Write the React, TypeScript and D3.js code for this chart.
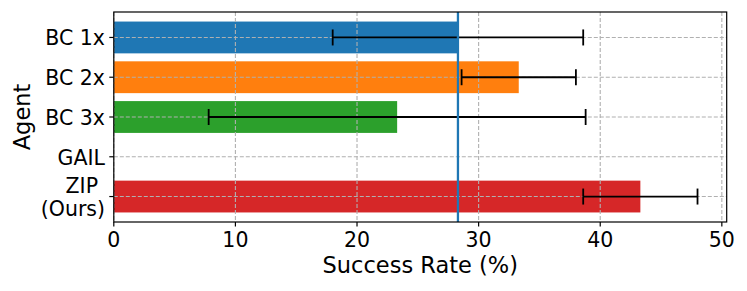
import React from "react";
import * as d3 from "d3";

const agents = ["BC 1x", "BC 2x", "BC 3x", "GAIL", "ZIP\n(Ours)"];
const successRates = [28.3, 33.3, 23.3, 0, 43.3];
const errors = [10.3, 4.7, 15.5, 0, 4.7];
const barColors = ["#1f77b4", "#ff7f0e", "#2ca02c", "#9467bd", "#d62728"];
const xTicks = [0, 10, 20, 30, 40, 50];
const referenceLine = 28.3;

const W = 747;
const H = 291;
const M = { left: 113.8, right: 726.7, top: 12, bottom: 222 };
const FONT = "DejaVu Sans, sans-serif";

export default function App() {
  const x = d3.scaleLinear().domain([0, 50.4]).range([M.left, M.right]);
  const y = d3
    .scaleLinear()
    .domain([-0.64, agents.length - 1 + 0.64])
    .range([M.top, M.bottom]);
  const barH = y(0.4) - y(-0.4);
  const capH = 8;
  const dash = "4,2";
  const tickFs = 20.5;

  return (
    <svg
      width={W}
      height={H}
      style={{ position: "absolute", left: 0, top: 0, background: "#fff" }}
      fontFamily={FONT}
    >
      {/* bars */}
      {agents.map((a, i) => (
        <rect
          key={"b" + i}
          x={x(0)}
          y={y(i) - barH / 2}
          width={x(successRates[i]) - x(0)}
          height={barH}
          fill={barColors[i]}
        />
      ))}
      {/* grid */}
      {xTicks.map((t) => (
        <line
          key={"gx" + t}
          x1={x(t)}
          x2={x(t)}
          y1={M.top}
          y2={M.bottom}
          stroke="#b0b0b0"
          strokeWidth={1.1}
          strokeDasharray={dash}
        />
      ))}
      {agents.map((a, i) => (
        <line
          key={"gy" + i}
          x1={M.left}
          x2={M.right}
          y1={y(i)}
          y2={y(i)}
          stroke="#b0b0b0"
          strokeWidth={1.1}
          strokeDasharray={dash}
        />
      ))}
      {/* error bars */}
      {agents.map((a, i) =>
        errors[i] > 0 ? (
          <g key={"e" + i} stroke="#000" strokeWidth={1.8}>
            <line
              x1={x(successRates[i] - errors[i])}
              x2={x(successRates[i] + errors[i])}
              y1={y(i)}
              y2={y(i)}
            />
            <line
              x1={x(successRates[i] - errors[i])}
              x2={x(successRates[i] - errors[i])}
              y1={y(i) - capH}
              y2={y(i) + capH}
            />
            <line
              x1={x(successRates[i] + errors[i])}
              x2={x(successRates[i] + errors[i])}
              y1={y(i) - capH}
              y2={y(i) + capH}
            />
          </g>
        ) : null
      )}
      {/* reference line */}
      <line
        x1={x(referenceLine)}
        x2={x(referenceLine)}
        y1={M.top}
        y2={M.bottom}
        stroke="#1f77b4"
        strokeWidth={2.3}
      />
      {/* frame */}
      <rect
        x={M.left}
        y={M.top}
        width={M.right - M.left}
        height={M.bottom - M.top}
        fill="none"
        stroke="#000"
        strokeWidth={1.2}
      />
      {/* x ticks */}
      {xTicks.map((t) => (
        <g key={"xt" + t}>
          <line x1={x(t)} x2={x(t)} y1={M.bottom} y2={M.bottom + 4.5} stroke="#000" strokeWidth={1.2} />
          <text x={x(t)} y={247} textAnchor="middle" fontSize={tickFs} fill="#000">
            {t}
          </text>
        </g>
      ))}
      {/* y ticks */}
      {agents.map((a, i) => {
        const lines = a.split("\n");
        return (
          <g key={"yt" + i}>
            <line x1={M.left - 4.5} x2={M.left} y1={y(i)} y2={y(i)} stroke="#000" strokeWidth={1.2} />
            {lines.length === 1 ? (
              <text x={105} y={y(i) + 7.8} textAnchor="end" fontSize={tickFs} fill="#000">
                {a}
              </text>
            ) : (
              <text textAnchor="end" fontSize={tickFs} fill="#000">
                <tspan x={98} y={y(i) - 4}>{lines[0]}</tspan>
                <tspan x={105} y={y(i) + 19.5}>{lines[1]}</tspan>
              </text>
            )}
          </g>
        );
      })}
      {/* axis labels */}
      <text
        x={(M.left + M.right) / 2}
        y={272.5}
        textAnchor="middle"
        fontSize={22.5}
        fill="#000"
      >
        Success Rate (%)
      </text>
      <text
        transform={`translate(30,${(M.top + M.bottom) / 2}) rotate(-90)`}
        textAnchor="middle"
        fontSize={22.5}
        fill="#000"
      >
        Agent
      </text>
    </svg>
  );
}
